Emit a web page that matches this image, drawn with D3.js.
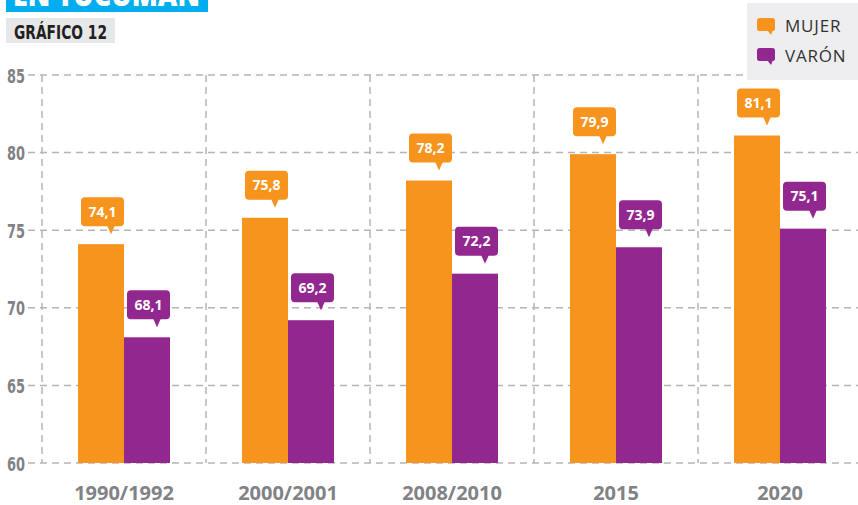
<!DOCTYPE html>
<html>
<head>
<meta charset="utf-8">
<script src="https://cdn.jsdelivr.net/npm/d3@7"></script>
<style>
  body { margin: 0; background: #fff; }
  svg { display: block; }
</style>
</head>
<body>
<svg id="chart"></svg>
<script>
// Esperanza de vida al nacer, Tucumán
const periods = ["1990/1992", "2000/2001", "2008/2010", "2015", "2020"];
const mujer = [74.1, 75.8, 78.2, 79.9, 81.1];
const varon = [68.1, 69.2, 72.2, 73.9, 75.1];
const yTicks = [60, 65, 70, 75, 80, 85];
const seriesNames = ["MUJER", "VARÓN"];

const ORANGE = "#f7941d";
const PURPLE = "#92278f";
const GREY = "#808285";
const GRID = "#b5b5b5";
const CONDENSED = "'Liberation Sans Narrow', 'DejaVu Sans Condensed', 'DejaVu Sans', sans-serif";

const W = 858, H = 505;
const svg = d3.select("#chart").attr("width", W).attr("height", H);

const x = d3.scaleBand().domain(periods).range([42, 862]).padding(0);
const y = d3.scaleLinear().domain([60, 85]).range([463, 75]);
const barW = 46;

// title strip (cut at top, as in the original)
svg.append("rect").attr("x", 6).attr("y", -20).attr("width", 202).attr("height", 32).attr("fill", "#00aeef");
svg.append("text")
  .attr("x", 13).attr("y", 6)
  .attr("textLength", 187)
  .attr("lengthAdjust", "spacingAndGlyphs")
  .attr("font-family", "Open Sans, sans-serif")
  .attr("font-weight", 800)
  .attr("font-size", 30)
  .attr("fill", "#fff")
  .text("EN TUCUMÁN");

svg.append("rect").attr("x", 6).attr("y", 18).attr("width", 109).attr("height", 25).attr("fill", "#e6e7e8");
svg.append("text")
  .attr("x", 14).attr("y", 38.5)
  .attr("textLength", 93)
  .attr("lengthAdjust", "spacingAndGlyphs")
  .attr("font-family", CONDENSED)
  .attr("font-weight", "bold")
  .attr("font-size", 19)
  .attr("fill", "#231f20")
  .text("GRÁFICO 12");

// grid
const grid = svg.append("g");
grid.selectAll(".hline")
  .data(yTicks)
  .join("line")
  .attr("x1", 28).attr("x2", W)
  .attr("y1", d => y(d)).attr("y2", d => y(d))
  .attr("stroke", GRID).attr("stroke-width", 1.5)
  .attr("stroke-dasharray", "7,5");

grid.selectAll(".vline")
  .data(periods)
  .join("line")
  .attr("x1", d => x(d)).attr("x2", d => x(d))
  .attr("y1", y(85)).attr("y2", y(60))
  .attr("stroke", GRID).attr("stroke-width", 1.5)
  .attr("stroke-dasharray", "7,5");

// y tick labels
svg.append("g").selectAll("text")
  .data(yTicks)
  .join("text")
  .attr("x", 7)
  .attr("y", d => y(d) + 7.5)
  .attr("textLength", 18)
  .attr("lengthAdjust", "spacingAndGlyphs")
  .attr("font-family", CONDENSED)
  .attr("font-weight", "bold")
  .attr("font-size", 20)
  .attr("fill", GREY)
  .text(d => d);

// x labels
svg.append("g").selectAll("text")
  .data(periods)
  .join("text")
  .attr("x", d => x(d) + x.bandwidth() / 2)
  .attr("y", 500)
  .attr("text-anchor", "middle")
  .attr("font-family", "Open Sans, sans-serif")
  .attr("font-weight", "bold")
  .attr("font-size", 20)
  .attr("fill", GREY)
  .text(d => d);

const rows = periods.map((p, i) => [
  { p, v: mujer[i], dx: -barW, color: ORANGE },
  { p, v: varon[i], dx: 0, color: PURPLE }
]).flat();

// bars
svg.append("g").selectAll("rect")
  .data(rows)
  .join("rect")
  .attr("x", d => x(d.p) + x.bandwidth() / 2 + d.dx)
  .attr("y", d => y(d.v))
  .attr("width", barW)
  .attr("height", d => y(60) - y(d.v))
  .attr("fill", d => d.color);

// callout labels
const fmt = v => v.toFixed(1).replace(".", ",");
const callouts = svg.append("g").selectAll("g")
  .data(rows)
  .join("g")
  .attr("transform", d => {
    const left = x(d.p) + x.bandwidth() / 2 + d.dx;
    return `translate(${left},${y(d.v) - 18})`;
  });

callouts.append("rect")
  .attr("x", 3).attr("y", -29)
  .attr("width", 43).attr("height", 29)
  .attr("rx", 4)
  .attr("fill", d => d.color);

callouts.append("path")
  .attr("d", "M29,-1 L37,-1 L33,8 Z")
  .attr("fill", d => d.color);

callouts.append("text")
  .attr("x", 24.5).attr("y", -9.5)
  .attr("text-anchor", "middle")
  .attr("font-family", "Open Sans, sans-serif")
  .attr("font-weight", "bold")
  .attr("font-size", 14)
  .attr("fill", "#fff")
  .text(d => fmt(d.v));

// legend
const legend = svg.append("g");
legend.append("rect").attr("x", 747).attr("y", 3).attr("width", 111).attr("height", 77).attr("fill", "#eeeef0");
const items = legend.selectAll("g")
  .data(seriesNames)
  .join("g")
  .attr("transform", (d, i) => `translate(757,${18 + i * 30})`);
items.append("rect")
  .attr("width", 18).attr("height", 13).attr("rx", 2.5)
  .attr("fill", (d, i) => i ? PURPLE : ORANGE);
items.append("path")
  .attr("d", "M10,12 L16,12 L14,17 Z")
  .attr("fill", (d, i) => i ? PURPLE : ORANGE);
items.append("text")
  .attr("x", 28).attr("y", 14)
  .attr("font-family", "Open Sans, sans-serif")
  .attr("font-size", 17)
  .attr("letter-spacing", 0.8)
  .attr("fill", "#333")
  .text(d => d);
</script>
</body>
</html>
